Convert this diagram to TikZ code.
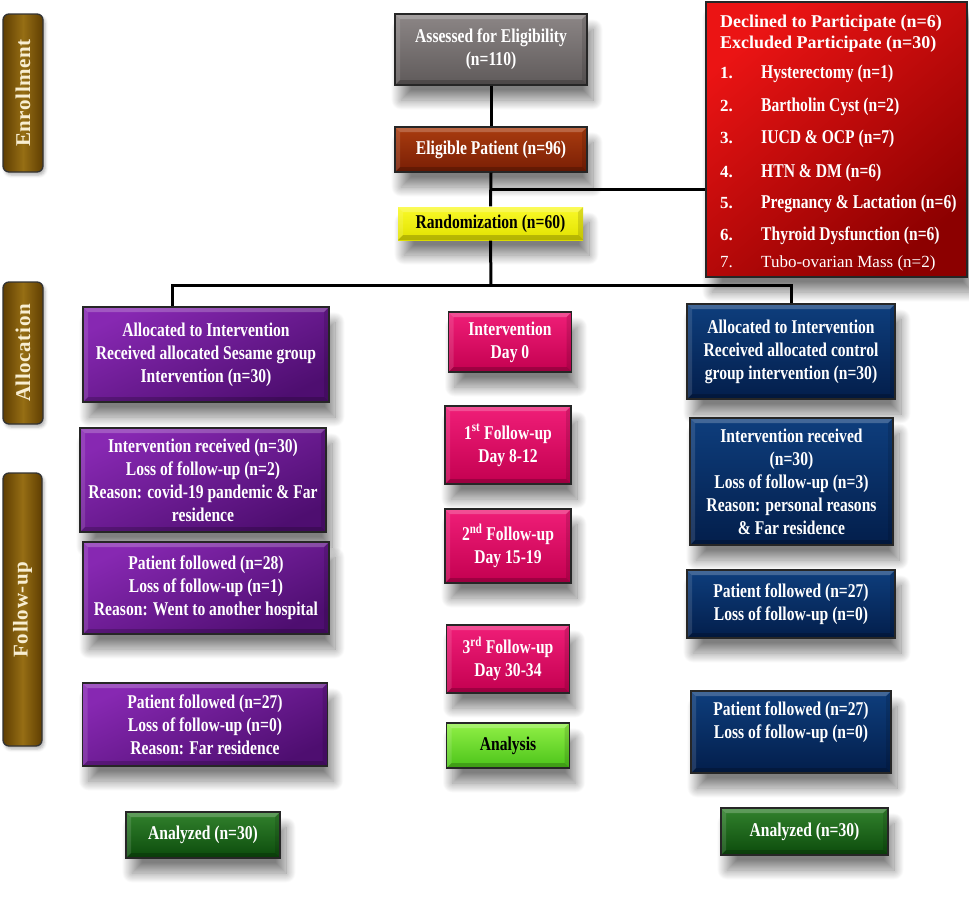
\documentclass[tikz,border=0pt]{standalone}
\usepackage{fontspec}
\setmainfont{Liberation Serif}
\newfontfamily\boxfont{Liberation Serif}[FakeStretch=0.8]
\newfontfamily\labfont{Liberation Serif}[LetterSpace=3]
\usetikzlibrary{shadows.blur,calc}
\definecolor{gray1}{RGB}{140,134,134}
\definecolor{gray2}{RGB}{95,90,90}
\definecolor{rust1}{RGB}{170,60,15}
\definecolor{rust2}{RGB}{120,30,5}
\definecolor{yel1}{RGB}{250,250,40}
\definecolor{yel2}{RGB}{225,225,0}
\definecolor{red1}{RGB}{235,20,20}
\definecolor{red2}{RGB}{140,0,0}
\definecolor{pur1}{RGB}{135,40,178}
\definecolor{pur2}{RGB}{78,14,112}
\definecolor{pink1}{RGB}{240,30,120}
\definecolor{pink2}{RGB}{195,0,80}
\definecolor{navy1}{RGB}{14,62,125}
\definecolor{navy2}{RGB}{3,30,75}
\definecolor{grn1}{RGB}{50,130,45}
\definecolor{grn2}{RGB}{12,75,12}
\definecolor{lgrn1}{RGB}{145,240,70}
\definecolor{lgrn2}{RGB}{75,195,25}
\definecolor{gold1}{RGB}{95,62,2}
\definecolor{gold2}{RGB}{150,110,20}
\definecolor{labtext}{RGB}{248,238,210}
\tikzset{
  bevel/.style={path picture={
    \fill[white,opacity=.22] (path picture bounding box.north west) -- (path picture bounding box.north east)
      -- ([xshift=-5pt,yshift=-5pt]path picture bounding box.north east)
      -- ([xshift=5pt,yshift=-5pt]path picture bounding box.north west) -- cycle;
    \fill[white,opacity=.12] (path picture bounding box.north west) -- (path picture bounding box.south west)
      -- ([xshift=5pt,yshift=5pt]path picture bounding box.south west)
      -- ([xshift=5pt,yshift=-5pt]path picture bounding box.north west) -- cycle;
    \fill[black,opacity=.2] (path picture bounding box.south west) -- (path picture bounding box.south east)
      -- ([xshift=-5pt,yshift=5pt]path picture bounding box.south east)
      -- ([xshift=5pt,yshift=5pt]path picture bounding box.south west) -- cycle;
    \fill[black,opacity=.12] (path picture bounding box.north east) -- (path picture bounding box.south east)
      -- ([xshift=-5pt,yshift=5pt]path picture bounding box.south east)
      -- ([xshift=-5pt,yshift=-5pt]path picture bounding box.north east) -- cycle;
  }},
  base/.style={draw=black!85, line width=1.3pt, inner sep=0pt, align=center, text=white,
    font=\boxfont\bfseries\fontsize{19.5}{23}\selectfont,
    blur shadow={shadow xshift=6pt, shadow yshift=-15pt, shadow blur radius=10pt, shadow blur steps=30, shadow opacity=50}, bevel},
  graybox/.style={base, top color=gray1, bottom color=gray2},
  rustbox/.style={base, top color=rust1, bottom color=rust2},
  yellowbox/.style={base, top color=yel1, bottom color=yel2, text=black, draw=none},
  redbox/.style={base, top color=red1, bottom color=red2, shading angle=40, path picture={}},
  purbox/.style={base, top color=pur1, bottom color=pur2, shading angle=25},
  pinkbox/.style={base, top color=pink1, bottom color=pink2},
  navybox/.style={base, top color=navy1, bottom color=navy2},
  grnbox/.style={base, top color=grn1, bottom color=grn2},
  lgrnbox/.style={base, top color=lgrn1, bottom color=lgrn2, text=black},
  sidelab/.style={draw=black!80, line width=1.3pt, rounded corners=6pt, rotate=90, inner sep=0pt,
    left color=gold1, right color=gold1, middle color=gold2, text=labtext,
    font=\labfont\bfseries\fontsize{21}{22}\selectfont,
    blur shadow={shadow xshift=2pt, shadow yshift=-3pt, shadow blur radius=3pt, shadow opacity=30}},
  redhead/.style={anchor=west, inner sep=0pt, text=white, font=\bfseries\fontsize{18}{20}\selectfont},
  reditem/.style={anchor=west, inner sep=0pt, text=white, font=\boxfont\bfseries\fontsize{19.5}{20}\selectfont},
  redplain/.style={anchor=west, inner sep=0pt, text=white, font=\fontsize{17}{20}\selectfont},
  conn/.style={line width=3pt, black},
}
\newcommand\numb[1]{\makebox[41pt][l]{\normalfont\bfseries\fontsize{17}{20}\selectfont #1}}
\begin{document}
\begin{tikzpicture}[x=1pt,y=-1pt]
\useasboundingbox (0,0) rectangle (969,908);
% side labels
\node[sidelab, minimum width=158, minimum height=40] (enr) at (23,93) {Enrollment};
\node[sidelab, minimum width=142, minimum height=40] (alloc) at (23,353) {Allocation};
\node[sidelab, minimum width=273, minimum height=39] (fup) at (22.5,609.5) {Follow-up};
% enrollment
\node[graybox, minimum width=192, minimum height=71] (assess) at (491,49.5) {Assessed for Eligibility\\(n=110)};
\node[rustbox, minimum width=192, minimum height=45] (elig) at (491,149.5) {Eligible Patient (n=96)};
\node[yellowbox, minimum width=185, minimum height=33] (rand) at (490.5,223.5) {Randomization (n=60)};
\node[redbox, minimum width=261, minimum height=275] (excl) at (836.5,139.5) {};
\node[redhead] (ex0) at (720,23) {Declined to Participate (n=6)};
\node[redhead] (ex00) at (720,44) {Excluded Participate (n=30)};
\node[reditem] (ex1) at (720,74) {\numb{1.}Hysterectomy (n=1)};
\node[reditem] (ex2) at (720,107) {\numb{2.}Bartholin Cyst (n=2)};
\node[reditem] (ex3) at (720,139) {\numb{3.}IUCD \& OCP (n=7)};
\node[reditem] (ex4) at (720,173) {\numb{4.}HTN \& DM (n=6)};
\node[reditem] (ex5) at (720,204) {\numb{5.}Pregnancy \& Lactation (n=6)};
\node[reditem] (ex6) at (720,236) {\numb{6.}Thyroid Dysfunction (n=6)};
\node[redplain] (ex7) at (720,263) {\makebox[41pt][l]{7.}Tubo-ovarian Mass (n=2)};
% left column
\node[purbox, minimum width=246, minimum height=95] (L1) at (206,354.5) {Allocated to Intervention\\Received allocated Sesame group\\Intervention (n=30)};
\node[purbox, minimum width=246, minimum height=104] (L2) at (203,480) {Intervention received (n=30)\\Loss of follow-up (n=2)\\Reason: covid-19 pandemic \& Far\\residence};
\node[purbox, minimum width=246, minimum height=92] (L3) at (206,588) {Patient followed (n=28)\\Loss of follow-up (n=1)\\Reason: Went to another hospital};
\node[purbox, minimum width=245, minimum height=83] (L4) at (205,724.5) {Patient followed (n=27)\\Loss of follow-up (n=0)\\Reason: Far residence};
\node[grnbox, minimum width=154, minimum height=46] (L5) at (203,835) {Analyzed (n=30)};
% middle column
\node[pinkbox, minimum width=123, minimum height=60] (M1) at (510,342) {Intervention\\Day 0};
\node[pinkbox, minimum width=126, minimum height=78] (M2) at (508,445) {1\textsuperscript{st} Follow-up\\Day 8-12};
\node[pinkbox, minimum width=126, minimum height=74] (M3) at (508,546) {2\textsuperscript{nd} Follow-up\\Day 15-19};
\node[pinkbox, minimum width=123, minimum height=68] (M4) at (508,659) {3\textsuperscript{rd} Follow-up\\Day 30-34};
\node[lgrnbox, minimum width=123, minimum height=45] (M5) at (508,745.5) {Analysis};
% right column
\node[navybox, minimum width=208, minimum height=95] (R1) at (791,351.5) {Allocated to Intervention\\Received allocated control\\group intervention (n=30)};
\node[navybox, minimum width=203, minimum height=127] (R2) at (791.5,481.5) {Intervention received\\(n=30)\\Loss of follow-up (n=3)\\Reason: personal reasons\\\& Far residence};
\node[navybox, minimum width=208, minimum height=68] (R3) at (791,604) {Patient followed (n=27)\\Loss of follow-up (n=0)};
\node[navybox, minimum width=200, minimum height=82] (R4) at (791,732) {Patient followed (n=27)\\Loss of follow-up (n=0)\\\mbox{}};
\node[grnbox, minimum width=167, minimum height=47] (R5) at (804.5,831.5) {Analyzed (n=30)};
% connectors
\coordinate (br) at (491,189);
\coordinate (hc) at (491,285);
\coordinate (hl) at (172,285);
\draw[conn] (assess.south) -- (elig.north);
\draw[conn] (elig.south) -- (rand.north);
\draw[conn] (br) -- (br -| excl.west);
\draw[conn] (rand.south) -- (hc);
\draw[conn] (hl |- L1.north) -- (hl) -- (hl -| R1.north) -- (R1.north);
\end{tikzpicture}
\end{document}
